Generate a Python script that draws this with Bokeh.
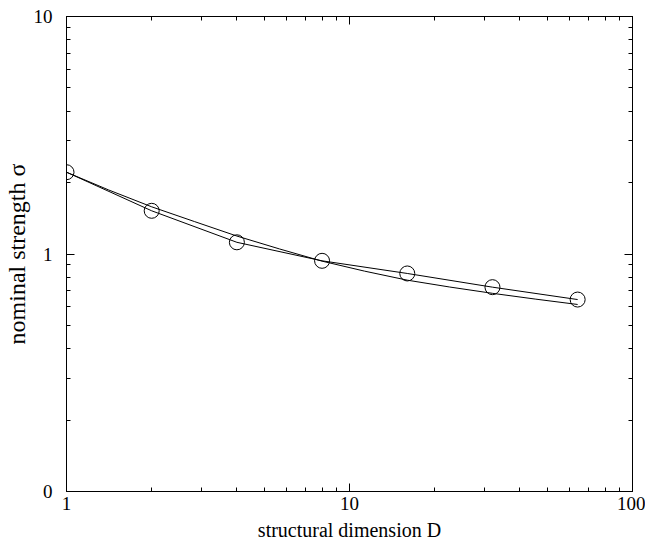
from bokeh.plotting import figure
from bokeh.models import LogAxis, FixedTicker, Range1d
from bokeh.embed import file_html
from bokeh.resources import INLINE

# Data
D = [1, 2, 4, 8, 16, 32, 64]
sigma = [2.21, 1.52, 1.12, 0.936, 0.828, 0.725, 0.643]
fit_D = [1, 1.41, 2, 2.83, 4, 5.66, 8, 11.3, 16, 22.6, 32, 45.3, 64]
fit_sigma = [2.21, 1.86, 1.58, 1.37, 1.19, 1.05, 0.933, 0.847, 0.776, 0.726, 0.683, 0.646, 0.613]
x_ticks = [1, 10, 100]
x_tick_labels = ["1", "10", "100"]
y_ticks = [0.1, 1, 10]
y_tick_labels = ["0", "1", "10"]
x_label = "structural dimension D"
y_label = "nominal strength σ"

FONT = "Liberation Serif"
TICK_FS = "19px"
XLAB_FS = "20px"
YLAB_FS = "24px"

def minors(decades):
    out = []
    for e in decades:
        for m in range(2, 10):
            out.append(m * 10.0 ** e)
    return out

x_minor = minors([0, 1])
y_minor = minors([-1, 0])

p = figure(width=645, height=545, x_axis_type="log", y_axis_type="log",
           x_range=Range1d(1, 100), y_range=Range1d(0.1, 10),
           output_backend="svg", toolbar_location=None,
           min_border_left=64, min_border_right=13, min_border_top=16, min_border_bottom=54)
p.xgrid.visible = False
p.ygrid.visible = False
p.outline_line_color = "black"
p.background_fill_color = "white"
p.border_fill_color = "white"

def style_axis(ax, ticks, labels, minor, show_labels):
    ax.ticker = FixedTicker(ticks=ticks, minor_ticks=minor)
    ax.major_tick_in = 8
    ax.major_tick_out = 0
    ax.minor_tick_in = 4
    ax.minor_tick_out = 0
    ax.axis_line_color = "black"
    ax.major_tick_line_color = "black"
    ax.minor_tick_line_color = "black"
    ax.major_label_text_font = FONT
    ax.major_label_text_color = "black"
    if show_labels:
        ax.major_label_overrides = {t: l for t, l in zip(ticks, labels)}
        ax.major_label_text_font_size = TICK_FS
    else:
        ax.major_label_overrides = {t: "" for t in ticks}
        ax.major_label_text_font_size = "1px"
        ax.major_label_standoff = 0

style_axis(p.xaxis[0], x_ticks, x_tick_labels, x_minor, True)
style_axis(p.yaxis[0], y_ticks, y_tick_labels, y_minor, True)
p.xaxis[0].major_label_standoff = 5
p.xaxis[0].axis_label = x_label
p.xaxis[0].axis_label_text_font = FONT
p.xaxis[0].axis_label_text_font_size = XLAB_FS
p.xaxis[0].axis_label_text_font_style = "normal"
p.xaxis[0].axis_label_text_color = "black"
p.xaxis[0].axis_label_standoff = 6

p.yaxis[0].major_label_standoff = 14
p.yaxis[0].axis_label = y_label
p.yaxis[0].axis_label_text_font = FONT
p.yaxis[0].axis_label_text_font_size = YLAB_FS
p.yaxis[0].axis_label_text_font_style = "normal"
p.yaxis[0].axis_label_text_color = "black"
p.yaxis[0].axis_label_standoff = 1

top = LogAxis()
style_axis(top, x_ticks, x_tick_labels, x_minor, False)
p.add_layout(top, "above")
right = LogAxis()
style_axis(right, y_ticks, y_tick_labels, y_minor, False)
p.add_layout(right, "right")

p.line(fit_D, fit_sigma, line_color="black", line_width=1)
p.line(D, sigma, line_color="black", line_width=1)
p.scatter(D, sigma, marker="circle", size=15, fill_color=None, line_color="black", line_width=1)

open("out.html", "w").write(file_html(p, INLINE))
